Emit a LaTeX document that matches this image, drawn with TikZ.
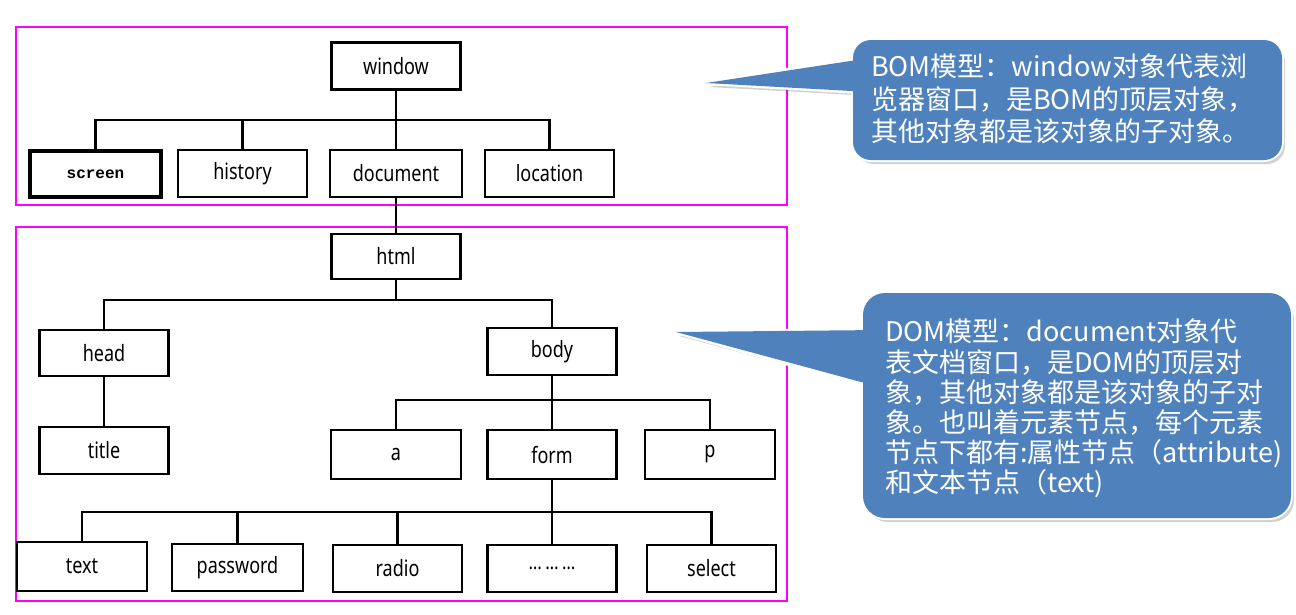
\documentclass[tikz,border=0pt]{standalone}
\usepackage{fontspec}
\newfontfamily\cjkfont{Noto Sans CJK SC}
\newfontfamily\treefont[FakeStretch=0.8]{Noto Sans}
\newfontfamily\scrfont{Liberation Mono}
\definecolor{calloutblue}{HTML}{4F81BD}
\definecolor{framemag}{HTML}{FF00FF}
\begin{document}
\begin{tikzpicture}[x=1pt,y=-1pt,
  tbox/.style={draw, line width=2.5pt, minimum width=129pt, minimum height=47pt, inner sep=0pt,
    font=\treefont\fontsize{22.5}{25}\selectfont},
  conn/.style={line width=2.5pt},
  framebox/.style={draw=framemag, line width=1.8pt},
  cshadow/.style={fill=black, opacity=0.18},
  cborder/.style={draw=white, line width=4pt, line join=round},
  cfill/.style={fill=calloutblue},
  ctext/.style={text=white, align=left, anchor=north west, inner sep=0pt}
]
\useasboundingbox (0,0) rectangle (1296,614);
\fill[white] (0,0) rectangle (1296,614);

% frames
\draw[framebox] (16,27) rectangle (787,205);
\draw[framebox] (16,227) rectangle (787,601);

% BOM level
\node[tbox] (window) at (396,66) {window};
\node[tbox, minimum width=131pt, minimum height=46pt, line width=3.6pt,
      font=\scrfont\bfseries\fontsize{16}{18}\selectfont] (screen) at (95.5,174) {screen};
\node[tbox] (history) at (242.5,173.5) {history};
\node[tbox, minimum width=132pt] (document) at (396,173.5) {document};
\node[tbox] (location) at (549.5,173.5) {location};

\coordinate (wb) at (396,120);
\draw[conn] (screen.north) |- (wb) -| (location.north);
\draw[conn] (window.south) -- (document.north);
\draw[conn] (history.north) -- (history.north |- wb);

% DOM level
\node[tbox, minimum height=45pt] (html) at (396,256.5) {html};
\draw[conn] (document.south) -- (html.north);

\node[tbox, minimum height=46pt] (head) at (104,353) {head};
\node[tbox] (body) at (552,351.5) {body};
\coordinate (hb) at (396,300);
\draw[conn] (html.south) -- (hb);
\draw[conn] (head.north) |- (hb) -| (body.north);

\node[tbox] (title) at (104,450.5) {title};
\draw[conn] (head.south) -- (title.north);

\node[tbox, minimum width=130pt, minimum height=49pt] (a) at (396,454.5) {a};
\node[tbox, minimum height=49pt] (form) at (552,454.5) {form};
\node[tbox, minimum width=130pt, minimum height=49pt] (p) at (710,454.5) {p};
\coordinate (bb) at (552,400);
\draw[conn] (body.south) -- (form.north);
\draw[conn] (a.north) |- (bb) -| (p.north);

\node[tbox, minimum width=130pt, minimum height=49pt] (text) at (82,566.5) {text};
\node[tbox, minimum width=131pt] (password) at (237.5,567.5) {password};
\node[tbox] (radio) at (397.5,568.5) {radio};
\node[tbox] (dots) at (552,568.5) {\fontsize{21}{24}\selectfont …\,…\,…};
\node[tbox] (select) at (711.5,568.5) {select};
\coordinate (fb) at (552,512);
\draw[conn] (form.south) -- (dots.north);
\draw[conn] (text.north) |- (fb) -| (select.north);
\draw[conn] (password.north) -- (password.north |- fb);
\draw[conn] (radio.north) -- (radio.north |- fb);

% BOM callout
\begin{scope}[shift={(3,4)}]
  \fill[cshadow, rounded corners=18pt] (853,40) rectangle (1282,160);
  \fill[cshadow] (870,58) -- (706,83) -- (870,92) -- cycle;
\end{scope}
\draw[cborder, rounded corners=18pt] (853,40) rectangle (1282,160);
\draw[cborder] (860,58) -- (706,83) -- (860,92);
\fill[cfill, rounded corners=18pt] (853,40) rectangle (1282,160);
\fill[cfill] (870,58) -- (706,83) -- (870,92) -- cycle;
\node[ctext, font=\cjkfont\fontsize{27}{32.5}\selectfont] (bomtext) at (871,54)
  {BOM模型：window对象代表浏\\览器窗口，是BOM的顶层对象，\\其他对象都是该对象的子对象。};

% DOM callout
\begin{scope}[shift={(3,4)}]
  \fill[cshadow, rounded corners=22pt] (863,293) rectangle (1291,518);
  \fill[cshadow] (880,330) -- (676,332) -- (880,387) -- cycle;
\end{scope}
\draw[cborder, rounded corners=22pt] (863,293) rectangle (1291,518);
\draw[cborder] (870,330) -- (676,332) -- (870,387);
\fill[cfill, rounded corners=22pt] (863,293) rectangle (1291,518);
\fill[cfill] (880,330) -- (676,332) -- (880,387) -- cycle;
\node[ctext, font=\cjkfont\fontsize{27}{30.2}\selectfont] (domtext) at (885,319)
  {DOM模型：document对象代\\表文档窗口，是DOM的顶层对\\象，其他对象都是该对象的子对\\象。也叫着元素节点，每个元素\\节点下都有:属性节点（attribute)\\和文本节点（text)};
\end{tikzpicture}
\end{document}
